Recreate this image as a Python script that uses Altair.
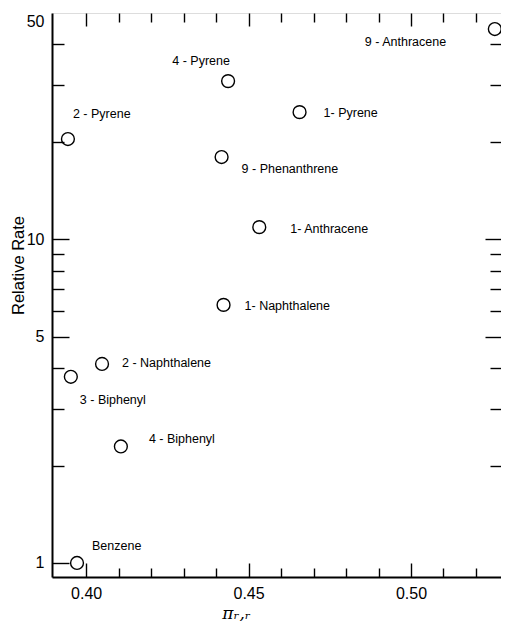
import altair as alt
import pandas as pd

# ---- data ----
compounds = ["9 - Anthracene", "4 - Pyrene", "1- Pyrene", "2 - Pyrene", "9 - Phenanthrene",
             "1- Anthracene", "1- Naphthalene", "2 - Naphthalene", "3 - Biphenyl",
             "4 - Biphenyl", "Benzene"]
pi_rr = [0.5258, 0.4437, 0.4657, 0.3944, 0.4417, 0.4533, 0.4423, 0.4049, 0.3953, 0.4107, 0.3972]
relative_rate = [44.6, 30.8, 24.7, 20.4, 17.95, 10.9, 6.27, 4.12, 3.76, 2.29, 1.0]

x_major = [0.40, 0.45, 0.50]
x_minor = [0.41, 0.42, 0.43, 0.44, 0.46, 0.47, 0.48, 0.49, 0.51, 0.52]
y_labels = [1, 5, 10, 50]
y_major_left = [1, 5, 10]
y_minor_left = [2, 3, 4, 6, 7, 8, 9, 20, 30, 40]
y_major_right = [5, 10]
y_minor_right = [2, 3, 4, 6, 7, 8, 9, 20, 30, 40]

# label placement (pixels relative to the point): dx, dy, align
label_style = {
    "9 - Anthracene": (-130, 13, "left"),
    "4 - Pyrene": (-27, -20, "center"),
    "1- Pyrene": (24, 1, "left"),
    "2 - Pyrene": (5, -25, "left"),
    "9 - Phenanthrene": (20, 12, "left"),
    "1- Anthracene": (31, 2, "left"),
    "1- Naphthalene": (21, 1, "left"),
    "2 - Naphthalene": (20, -1, "left"),
    "3 - Biphenyl": (9, 23, "left"),
    "4 - Biphenyl": (28, -7, "left"),
    "Benzene": (15, -17, "left"),
}

df = pd.DataFrame({"name": compounds, "x": pi_rr, "y": relative_rate})

FONT = "Liberation Sans"
xs = alt.Scale(domain=[0.3895, 0.5277], nice=False, zero=False)
ys = alt.Scale(type="log", domain=[0.905, 50], nice=False)

base = alt.Chart(df)

points = base.mark_point(shape="circle", filled=False, size=165, stroke="black",
                         strokeWidth=1.4, opacity=1).encode(
    x=alt.X("x:Q", scale=xs, axis=alt.Axis(
        orient="bottom", values=x_major, format=".2f", ticks=False, tickSize=0,
        domain=True, domainColor="black", domainWidth=2, grid=False,
        labelFont=FONT, labelFontSize=16, labelColor="black", labelPadding=8,
        labelFlush=False,
        title="πᵣ,ᵣ", titleFont="DejaVu Serif", titleFontSize=17, titleFontWeight="normal",
        titleFontStyle="italic",
        titleColor="black", titleX=184, titleY=36, titleAlign="center",
        titleBaseline="middle")),
    y=alt.Y("y:Q", scale=ys, axis=alt.Axis(
        orient="left", values=y_labels, format="d", ticks=False, tickSize=0,
        domain=True, domainColor="black", domainWidth=2, grid=False,
        labelFont=FONT, labelFontSize=16, labelColor="black", labelPadding=8,
        labelFlush=True,
        title="Relative Rate", titleFont=FONT, titleFontSize=16.5, titleFontWeight="normal",
        titleColor="black", titleX=-34, titleY=252, titleAngle=270, titleAlign="center",
        titleBaseline="middle")),
)


def tick_axis(orient, values, size):
    return alt.Axis(orient=orient, values=values, tickSize=size, offset=-size,
                    labels=False, domain=False, ticks=True, grid=False, title=None,
                    tickColor="black", tickWidth=1.4)


def tick_layer(xo, xv, xsz, yo, yv, ysz):
    return base.mark_point(opacity=0).encode(
        x=alt.X("x:Q", scale=xs, axis=tick_axis(xo, xv, xsz)),
        y=alt.Y("y:Q", scale=ys, axis=tick_axis(yo, yv, ysz)),
    )


ticks = [
    tick_layer("bottom", x_major, 14, "left", y_major_left, 17),
    tick_layer("bottom", x_minor, 9, "left", y_minor_left, 12),
    tick_layer("top", x_major, 13, "right", y_major_right, 16),
    tick_layer("top", x_minor, 9, "right", y_minor_right, 11),
]

labels = []
for n in compounds:
    dx, dy, al = label_style[n]
    labels.append(
        base.transform_filter(alt.datum.name == n).mark_text(
            dx=dx, dy=dy, align=al, baseline="middle", font=FONT, fontSize=12.5,
            color="black").encode(
            x=alt.X("x:Q", scale=xs, axis=None),
            y=alt.Y("y:Q", scale=ys, axis=None),
            text="name:N",
        )
    )

chart = alt.layer(points, *ticks, *labels).resolve_axis(
    x="independent", y="independent"
).properties(
    width=449, height=564,
    autosize=alt.AutoSizeParams(type="none"),
    padding={"left": 44, "top": 5, "right": 0, "bottom": 44},
).configure_view(stroke="black", strokeWidth=1.5).configure(background="white")

chart.save("out.html", embed_options={"renderer": "svg", "actions": False})
